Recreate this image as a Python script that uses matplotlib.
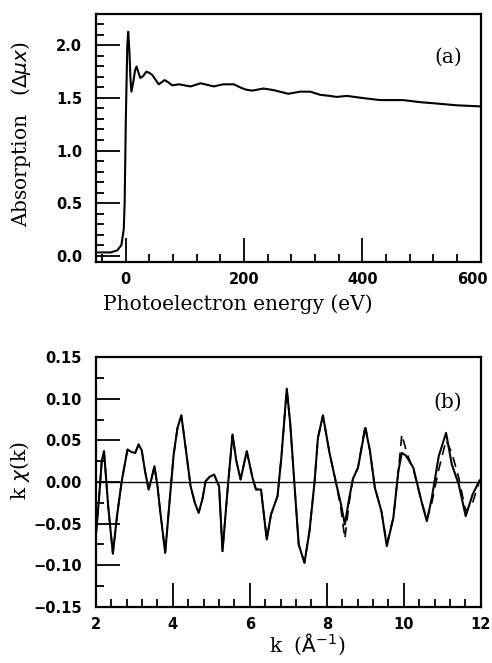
import matplotlib.pyplot as plt
from matplotlib.ticker import MultipleLocator, FuncFormatter
from matplotlib.transforms import ScaledTranslation

# ---------------------------------------------------------------
# (a) absorption vs photoelectron energy
# ---------------------------------------------------------------
energy_ev = [-50, -40, -25, -14, -7, -3, -1.5, -0.6, 0.5, 1.7, 3.0, 4.5, 6.5, 8.5, 10,
             13, 16, 18.6, 22, 25, 30, 35, 40, 45, 50, 56, 61, 66, 72, 79, 90,
             110, 127, 149, 165, 183, 194, 203, 214, 233, 250, 275, 295, 312,
             329, 345, 357, 374, 400, 430, 469, 498, 520, 560, 600]
absorption = [0.03, 0.03, 0.03, 0.05, 0.10, 0.25, 0.50, 0.85, 1.30, 1.64, 2.00, 2.13, 1.95, 1.66, 1.56,
              1.65, 1.76, 1.80, 1.74, 1.69, 1.71, 1.75, 1.74, 1.72, 1.68, 1.63, 1.65, 1.67, 1.65, 1.62, 1.63,
              1.61, 1.64, 1.61, 1.63, 1.63, 1.60, 1.58, 1.57, 1.59, 1.575, 1.54, 1.56, 1.56,
              1.53, 1.52, 1.51, 1.52, 1.50, 1.48, 1.48, 1.46, 1.45, 1.43, 1.42]

# ---------------------------------------------------------------
# (b) k-weighted EXAFS: experiment (solid) and fit (dashed)
# ---------------------------------------------------------------
k_vals = [2.0, 2.08, 2.15, 2.21, 2.32, 2.44, 2.55, 2.67, 2.82, 2.92, 3.02, 3.11, 3.19, 3.28,
          3.37, 3.45, 3.52, 3.60, 3.67, 3.80, 3.92, 4.02, 4.12, 4.22, 4.32, 4.46, 4.57, 4.67,
          4.77, 4.85, 4.95, 5.07, 5.20, 5.29, 5.42, 5.55, 5.65, 5.76, 5.92, 6.07, 6.16, 6.29,
          6.44, 6.55, 6.72, 6.82, 6.96, 7.05, 7.16, 7.27, 7.42, 7.55, 7.68, 7.77, 7.90, 8.07,
          8.25, 8.36, 8.47, 8.58, 8.68, 8.81, 9.00, 9.12, 9.25, 9.42, 9.56, 9.73, 9.86, 9.95,
          10.05, 10.12, 10.25, 10.46, 10.60, 10.73, 10.91, 11.10, 11.25, 11.43, 11.61, 11.79,
          11.96, 12.0]
k_chi = [-0.063, -0.020, 0.025, 0.037, -0.030, -0.086, -0.040, 0.001, 0.039, 0.036, 0.035, 0.045, 0.038, 0.012,
         -0.009, 0.005, 0.019, -0.005, -0.035, -0.085, -0.020, 0.033, 0.065, 0.080, 0.045, -0.005, -0.025, -0.037,
         -0.020, 0.001, 0.006, 0.009, -0.005, -0.083, -0.010, 0.057, 0.025, 0.003, 0.037, 0.005, -0.009, -0.009,
         -0.069, -0.039, -0.017, 0.030, 0.112, 0.070, -0.003, -0.075, -0.097, -0.059, -0.001, 0.053, 0.080, 0.035,
         -0.003, -0.025, -0.051, -0.020, 0.004, 0.017, 0.065, 0.038, -0.007, -0.035, -0.077, -0.043, 0.013, 0.035,
         0.032, 0.027, 0.017, -0.023, -0.047, -0.019, 0.031, 0.059, 0.021, -0.003, -0.041, -0.015,
         0.001, 0.003]
k_chi_fit = [-0.063, -0.020, 0.025, 0.037, -0.030, -0.086, -0.040, 0.001, 0.039, 0.036, 0.035, 0.045, 0.038, 0.012,
             -0.009, 0.005, 0.019, -0.005, -0.035, -0.085, -0.020, 0.033, 0.065, 0.080, 0.045, -0.005, -0.025, -0.037,
             -0.020, 0.001, 0.006, 0.009, -0.005, -0.083, -0.010, 0.057, 0.025, 0.003, 0.037, 0.005, -0.009, -0.009,
             -0.069, -0.039, -0.017, 0.030, 0.112, 0.070, -0.003, -0.075, -0.097, -0.059, -0.001, 0.053, 0.080, 0.035,
             -0.003, -0.030, -0.068, -0.025, 0.004, 0.017, 0.068, 0.038, -0.007, -0.035, -0.074, -0.043, 0.013, 0.057,
             0.040, 0.030, 0.015, -0.023, -0.045, -0.025, 0.015, 0.050, 0.035, 0.005, -0.035, -0.025,
             0.000, 0.003]

TICK_FONT = dict(family='DejaVu Sans', weight='bold', size=10.5)
LABEL_FONT = dict(family='DejaVu Serif', size=14.5)


def minus_fmt(decimals):
    # typeset negative values with a proper minus sign
    return FuncFormatter(lambda v, pos: f'{v:.{decimals}f}'.replace('-', '\u2212'))


def style_axes(ax, major_x, minor_x, major_y, minor_y, ydec):
    ax.xaxis.set_major_locator(MultipleLocator(major_x))
    ax.xaxis.set_minor_locator(MultipleLocator(minor_x))
    ax.yaxis.set_major_locator(MultipleLocator(major_y))
    ax.yaxis.set_minor_locator(MultipleLocator(minor_y))
    ax.yaxis.set_major_formatter(minus_fmt(ydec))
    ax.tick_params(which='both', direction='in', top=False, right=False, width=1.3)
    ax.tick_params(which='major', length=17)
    ax.tick_params(axis='x', which='major', pad=7)
    ax.tick_params(axis='y', which='major', pad=10)
    ax.tick_params(which='minor', length=6)
    for lab in ax.get_xticklabels() + ax.get_yticklabels():
        lab.set_fontfamily(TICK_FONT['family'])
        lab.set_fontweight(TICK_FONT['weight'])
        lab.set_fontsize(TICK_FONT['size'])
    for sp in ax.spines.values():
        sp.set_linewidth(1.6)


fig = plt.figure(figsize=(4.92, 6.63), dpi=100)

ax_a = fig.add_axes([0.195, 0.605, 0.782, 0.374])
ax_a.plot(energy_ev, absorption, color='black', lw=1.5)
ax_a.set_xlim(-50, 600)
ax_a.set_ylim(-0.06, 2.3)
style_axes(ax_a, 200, 40, 0.5, 0.1, 1)
ax_a.set_xlabel('Photoelectron energy (eV)', **LABEL_FONT)
ax_a.set_ylabel(r'Absorption   ($\Delta\mu x$)', **LABEL_FONT)
ax_a.xaxis.set_label_coords(0.37, -0.13)
ax_a.yaxis.set_label_coords(-0.164, 0.516)
ax_a.text(0.915, 0.827, '(a)', transform=ax_a.transAxes, ha='center', va='center', **LABEL_FONT)

ax_b = fig.add_axes([0.195, 0.0845, 0.782, 0.377])
ax_b.axhline(0, color='black', lw=1.0)
ax_b.plot(k_vals, k_chi_fit, color='black', lw=1.2, ls=(0, (6, 4)))
ax_b.plot(k_vals, k_chi, color='black', lw=1.5)
ax_b.set_xlim(2, 12)
ax_b.set_ylim(-0.15, 0.15)
style_axes(ax_b, 2, 0.4, 0.05, 0.025, 2)
ax_b.set_xlabel(r'k  ($\mathrm{\AA}^{-1}$)', **LABEL_FONT)
ax_b.set_ylabel(r'k $\chi$(k)', **LABEL_FONT)
ax_b.xaxis.set_label_coords(0.55, -0.10)
ax_b.yaxis.set_label_coords(-0.166, 0.544)
ax_b.text(0.913, 0.82, '(b)', transform=ax_b.transAxes, ha='center', va='center', **LABEL_FONT)

# pull the last energy label (600) in a little so it stays inside the figure
fig.canvas.draw()
for tick in ax_a.xaxis.get_major_ticks():
    if abs(tick.get_loc() - 600) < 1e-6:
        lab = tick.label1
        lab.set_transform(lab.get_transform() + ScaledTranslation(-6 / 72, 0, fig.dpi_scale_trans))

fig.savefig('out.png', dpi=100)
